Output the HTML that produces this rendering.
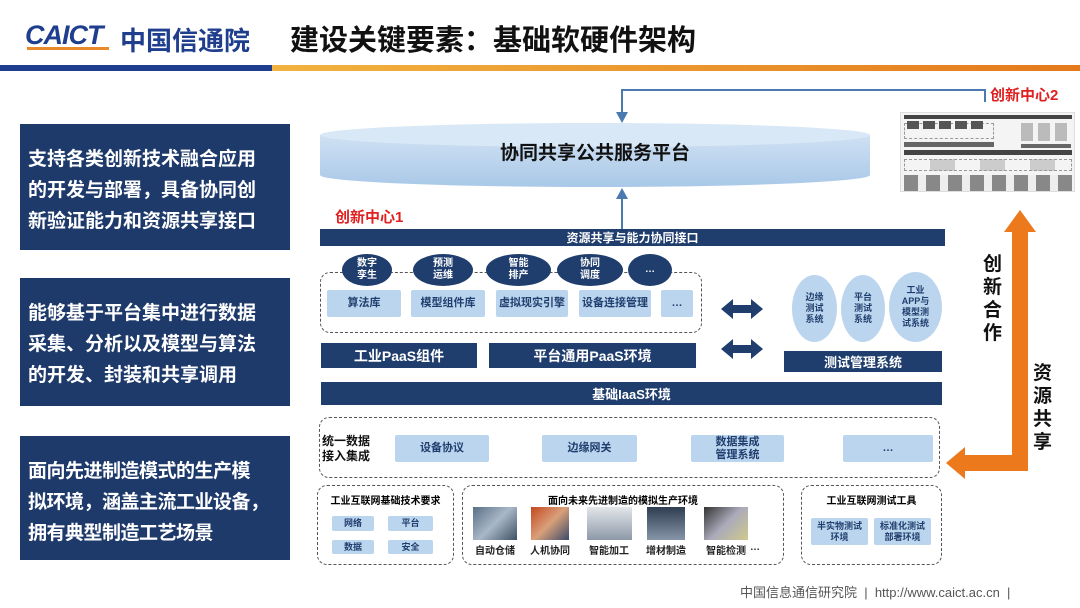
<!DOCTYPE html>
<html><head><meta charset="utf-8"><style>
body{margin:0;width:1080px;height:608px;position:relative;overflow:hidden;background:#fff;font-family:"Liberation Sans","Noto Sans CJK SC",sans-serif;}
.a{position:absolute;box-sizing:border-box;}
.nav{background:#1f3e6d;color:#fff;font-weight:bold;display:flex;align-items:center;justify-content:center;text-align:center;}
.lb{background:#bcd5ee;color:#1f3e6d;font-weight:bold;font-size:11px;display:flex;align-items:center;justify-content:center;text-align:center;line-height:13px;border-radius:2px;}
.el{background:#1f3e6d;color:#fff;border-radius:50%;font-size:10px;font-weight:bold;display:flex;align-items:center;justify-content:center;text-align:center;line-height:12px;}
.el2{background:#bcd5ee;color:#1f3e6d;border-radius:50%;font-size:9px;font-weight:bold;display:flex;align-items:center;justify-content:center;text-align:center;line-height:11px;}
.dash{border:1.5px dashed #555;border-radius:10px;}
.left{background:#1e3a6b;color:#fff;font-size:19px;font-weight:bold;line-height:31px;padding:20px 0 0 8px;white-space:nowrap;}
.img{background:linear-gradient(135deg,#5a6f85,#a9b8c8 50%,#3e5063);}
.cap{font-size:10px;font-weight:bold;color:#222;text-align:center;}
</style></head><body>
<div class="a" style="left:25px;top:20px;font-size:27px;font-weight:900;color:#1f3e8e;font-style:italic;letter-spacing:-1px">CAICT</div>
<div class="a" style="left:27px;top:47px;width:82px;height:3px;background:#e8892a"></div>
<div class="a" style="left:120px;top:21px;font-size:26px;color:#1f3e8e;font-weight:bold">中国信通院</div>
<div class="a" style="left:290px;top:17px;font-size:29px;font-weight:bold;color:#111">建设关键要素：基础软硬件架构</div>
<div class="a" style="left:0;top:65px;width:272px;height:6px;background:#1f3e8e"></div>
<div class="a" style="left:272px;top:65px;width:808px;height:6px;background:linear-gradient(90deg,#f2b340,#e47a1c)"></div>

<div class="a left" style="left:20px;top:124px;width:270px;height:126px">支持各类创新技术融合应用<br>的开发与部署，具备协同创<br>新验证能力和资源共享接口</div>
<div class="a left" style="left:20px;top:278px;width:270px;height:128px">能够基于平台集中进行数据<br>采集、分析以及模型与算法<br>的开发、封装和共享调用</div>
<div class="a left" style="left:20px;top:436px;width:270px;height:124px;letter-spacing:-0.5px">面向先进制造模式的生产模<br>拟环境，涵盖主流工业设备，<br>拥有典型制造工艺场景</div>

<svg class="a" style="left:0;top:0" width="1080" height="608">
<defs><linearGradient id="cy" x1="0" y1="0" x2="0" y2="1"><stop offset="0" stop-color="#cfe1f3"/><stop offset="1" stop-color="#a9c8e8"/></linearGradient></defs>
<path d="M320,135 L320,175 A275,12 0 0 0 870,175 L870,135 Z" fill="url(#cy)"/>
<ellipse cx="595" cy="135" rx="275" ry="12" fill="#d9e8f6"/>
<path d="M622,120 V90 H985 V102" fill="none" stroke="#4a7ab0" stroke-width="2"/>
<path d="M616,112 L628,112 L622,123 Z" fill="#4a7ab0"/>
<path d="M622,229 V196" stroke="#4a7ab0" stroke-width="2"/>
<path d="M616,199 L628,199 L622,188 Z" fill="#4a7ab0"/>
<path d="M1012,232 H1004 L1020,210 L1036,232 H1028 V471 H965 V479 L946,463 L965,447 V455 H1012 Z" fill="#ec7a1c"/>
<g fill="#1f3e6d">
<path d="M721,309 L733,299 V305 H751 V299 L763,309 L751,319 V313 H733 V319 Z"/>
<path d="M721,349 L733,339 V345 H751 V339 L763,349 L751,359 V353 H733 V359 Z"/>
</g>
</svg>
<div class="a" style="left:320px;top:138px;text-align:center;font-size:19px;font-weight:bold;color:#111;width:550px">协同共享公共服务平台</div>
<div class="a" style="left:335px;top:206px;font-size:15px;font-weight:bold;color:#e02020">创新中心1</div>

<div class="a nav" style="left:320px;top:229px;width:625px;height:17px;font-size:12px">资源共享与能力协同接口</div>
<div class="a dash" style="left:320px;top:272px;width:382px;height:61px"></div>
<div class="a el" style="left:342px;top:254px;width:50px;height:32px">数字<br>孪生</div>
<div class="a el" style="left:413px;top:254px;width:60px;height:32px">预测<br>运维</div>
<div class="a el" style="left:486px;top:254px;width:65px;height:32px">智能<br>排产</div>
<div class="a el" style="left:557px;top:254px;width:66px;height:32px">协同<br>调度</div>
<div class="a el" style="left:628px;top:254px;width:44px;height:32px">…</div>
<div class="a lb" style="left:327px;top:290px;width:74px;height:27px">算法库</div>
<div class="a lb" style="left:411px;top:290px;width:74px;height:27px">模型组件库</div>
<div class="a lb" style="left:496px;top:290px;width:72px;height:27px">虚拟现实引擎</div>
<div class="a lb" style="left:579px;top:290px;width:72px;height:27px">设备连接管理</div>
<div class="a lb" style="left:661px;top:290px;width:32px;height:27px">…</div>
<div class="a nav" style="left:321px;top:343px;width:156px;height:25px;font-size:14px">工业PaaS组件</div>
<div class="a nav" style="left:489px;top:343px;width:207px;height:25px;font-size:14px">平台通用PaaS环境</div>
<div class="a el2" style="left:792px;top:275px;width:45px;height:67px">边缘<br>测试<br>系统</div>
<div class="a el2" style="left:841px;top:275px;width:44px;height:67px">平台<br>测试<br>系统</div>
<div class="a el2" style="left:889px;top:272px;width:53px;height:70px">工业<br>APP与<br>模型测<br>试系统</div>
<div class="a nav" style="left:784px;top:351px;width:158px;height:21px;font-size:13px">测试管理系统</div>
<div class="a nav" style="left:321px;top:382px;width:621px;height:23px;font-size:13px">基础IaaS环境</div>

<div class="a dash" style="left:319px;top:417px;width:621px;height:61px"></div>
<div class="a" style="left:322px;top:434px;font-size:12px;font-weight:bold;line-height:15px;color:#111">统一数据<br>接入集成</div>
<div class="a lb" style="left:395px;top:435px;width:94px;height:27px">设备协议</div>
<div class="a lb" style="left:542px;top:435px;width:95px;height:27px">边缘网关</div>
<div class="a lb" style="left:691px;top:435px;width:93px;height:27px">数据集成<br>管理系统</div>
<div class="a lb" style="left:843px;top:435px;width:90px;height:27px">…</div>

<div class="a dash" style="left:317px;top:485px;width:137px;height:80px"></div>
<div class="a" style="left:317px;top:492px;width:137px;text-align:center;font-size:10px;font-weight:bold">工业互联网基础技术要求</div>
<div class="a lb" style="left:332px;top:516px;width:42px;height:15px;font-size:9px">网络</div>
<div class="a lb" style="left:388px;top:516px;width:45px;height:15px;font-size:9px">平台</div>
<div class="a lb" style="left:332px;top:540px;width:42px;height:14px;font-size:9px">数据</div>
<div class="a lb" style="left:388px;top:540px;width:45px;height:14px;font-size:9px">安全</div>

<div class="a dash" style="left:462px;top:485px;width:322px;height:80px"></div>
<div class="a" style="left:462px;top:492px;width:322px;text-align:center;font-size:10px;font-weight:bold">面向未来先进制造的模拟生产环境</div>
<div class="a img" style="left:473px;top:507px;width:44px;height:33px"></div>
<div class="a img" style="left:531px;top:507px;width:38px;height:33px;background:linear-gradient(135deg,#c4471f,#d9a07a 50%,#3b4b6a)"></div>
<div class="a img" style="left:587px;top:507px;width:45px;height:33px;background:linear-gradient(180deg,#e3e6ea,#8d99a8)"></div>
<div class="a img" style="left:647px;top:507px;width:38px;height:33px;background:linear-gradient(180deg,#2f3d52,#8795a8)"></div>
<div class="a img" style="left:704px;top:507px;width:44px;height:33px;background:linear-gradient(135deg,#333,#aab,#cfc98a)"></div>
<div class="a cap" style="left:468px;top:542px;width:54px">自动仓储</div>
<div class="a cap" style="left:523px;top:542px;width:54px">人机协同</div>
<div class="a cap" style="left:582px;top:542px;width:54px">智能加工</div>
<div class="a cap" style="left:639px;top:542px;width:54px">增材制造</div>
<div class="a cap" style="left:699px;top:542px;width:54px">智能检测</div>
<div class="a cap" style="left:748px;top:542px;width:14px">…</div>

<div class="a dash" style="left:801px;top:485px;width:141px;height:80px"></div>
<div class="a" style="left:801px;top:492px;width:141px;text-align:center;font-size:10px;font-weight:bold">工业互联网测试工具</div>
<div class="a lb" style="left:811px;top:518px;width:57px;height:27px;font-size:9px;line-height:11px">半实物测试<br>环境</div>
<div class="a lb" style="left:874px;top:518px;width:57px;height:27px;font-size:9px;line-height:11px">标准化测试<br>部署环境</div>

<div class="a" style="left:990px;top:84px;font-size:15px;font-weight:bold;color:#e02020">创新中心2</div>
<div class="a" style="left:900px;top:112px;width:175px;height:80px;background:#f4f4f4;border:1px solid #ddd">
<div class="a" style="left:3px;top:2px;width:168px;height:4px;background:#444"></div>
<div class="a" style="left:3px;top:10px;width:90px;height:16px;border:1px dashed #999"></div>
<div class="a" style="left:6px;top:8px;width:80px;height:8px;background:repeating-linear-gradient(90deg,#555 0 12px,transparent 12px 16px)"></div>
<div class="a" style="left:120px;top:10px;width:50px;height:18px;background:repeating-linear-gradient(90deg,#bbb 0 12px,transparent 12px 17px)"></div>
<div class="a" style="left:3px;top:29px;width:90px;height:5px;background:#666"></div>
<div class="a" style="left:120px;top:31px;width:50px;height:4px;background:#666"></div>
<div class="a" style="left:3px;top:37px;width:168px;height:5px;background:#444"></div>
<div class="a" style="left:3px;top:46px;width:168px;height:12px;border:1px dashed #999;background:repeating-linear-gradient(90deg,transparent 0 25px,#ccc 25px 50px)"></div>
<div class="a" style="left:3px;top:62px;width:168px;height:16px;background:repeating-linear-gradient(90deg,#888 0 14px,#eee 14px 22px)"></div>
</div>

<div class="a" style="left:983px;top:253px;width:20px;font-size:19px;font-weight:bold;line-height:23px;color:#111">创新合作</div>
<div class="a" style="left:1033px;top:362px;width:20px;font-size:19px;font-weight:bold;line-height:23px;color:#111">资源共享</div>

<div class="a" style="left:740px;top:582px;font-size:13px;color:#555;white-space:nowrap">中国信息通信研究院 &nbsp;|&nbsp; http://www.caict.ac.cn &nbsp;|</div>
</body></html>
